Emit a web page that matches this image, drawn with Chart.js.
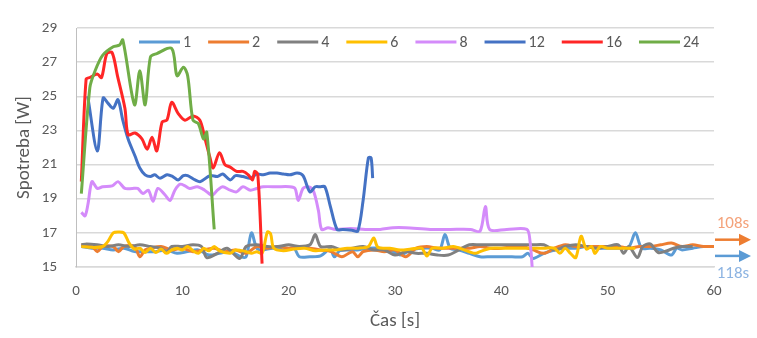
<!DOCTYPE html>
<html><head><meta charset="utf-8">
<script src="https://cdn.jsdelivr.net/npm/chart.js@4.4.1/dist/chart.umd.min.js"></script>
<style>html,body{margin:0;padding:0;background:#fff;}#wrap{width:757px;height:338px;}</style>
</head><body><div id="wrap"><canvas id="c" width="757" height="338"></canvas></div>
<script>
const seriesLabels = ['1','2','4','6','8','12','16','24'];
const seriesColors = ['#5B9BD5','#ED7D31','#808080','#FFC000','#D48BFA','#4472C4','#FF2626','#70AD47'];
const yTicks = [15,17,19,21,23,25,27,29];
const xTicks = [0,10,20,30,40,50,60];
const noteLabels = ['108s','118s'];
const noteValues = [16.6,15.65];

const s1 = [[0.5,16.2],[1.5,16.1],[2.5,16.1],[3.5,16.0],[4.5,16.1],[5.5,15.9],[6.5,15.9],[7.5,15.9],[8.5,16.0],[9.5,15.8],[10.5,15.9],[11.5,16.0],[12.5,15.7],[13.5,15.8],[14.5,15.9],[15.5,15.6],[16.0,15.6],[16.5,17.0],[17.0,16.1],[17.5,16.0],[18.5,16.1],[19.5,16.0],[20.5,16.1],[21.0,15.6],[22.0,15.6],[23.0,15.65],[23.9,16.05],[24.3,15.6],[24.8,15.95],[25.5,16.0],[26.5,16.0],[27.5,16.1],[28.5,16.1],[29.5,16.0],[30.5,15.7],[31.5,16.0],[32.5,16.1],[33.5,16.1],[34.2,16.0],[34.7,16.9],[35.2,16.1],[36.0,16.0],[37.0,15.8],[38.0,15.6],[39.0,15.6],[40.0,15.6],[41.0,15.6],[42.0,15.6],[42.5,15.8],[43.0,15.5],[44.0,15.8],[45.0,16.0],[46.0,16.1],[47.0,16.1],[48.0,16.2],[49.0,16.1],[50.0,16.1],[51.0,16.1],[52.0,16.2],[52.6,17.0],[53.2,16.1],[54.0,16.1],[55.0,16.0],[56.0,15.7],[56.5,16.1],[57.0,16.0],[58.0,16.1],[59.0,16.2],[60.0,16.2]];
const s2 = [[0.5,16.3],[1.5,16.2],[2.0,15.9],[2.5,16.2],[3.5,16.2],[4.0,15.9],[4.5,16.2],[5.5,16.2],[6.0,15.6],[6.5,16.0],[7.0,16.1],[8.0,16.2],[9.0,16.0],[10.0,16.1],[11.0,15.9],[12.0,16.0],[13.0,16.1],[14.0,15.9],[15.0,16.0],[16.0,15.8],[17.0,16.2],[18.0,16.1],[19.0,16.2],[20.0,16.1],[21.0,16.2],[22.0,16.1],[23.0,16.0],[24.0,15.9],[25.0,15.6],[26.0,15.9],[26.5,15.6],[27.0,15.9],[28.0,16.0],[29.0,15.9],[30.0,16.0],[31.0,15.6],[32.0,16.1],[33.0,16.2],[34.0,16.1],[35.0,16.1],[36.0,16.1],[37.0,16.1],[38.0,16.2],[39.0,16.1],[40.0,16.1],[41.0,16.2],[42.0,16.2],[43.0,16.0],[44.0,15.8],[45.0,16.1],[46.0,16.3],[47.0,16.2],[48.0,16.2],[49.0,16.2],[50.0,16.2],[51.0,16.2],[52.0,16.1],[53.0,16.2],[54.0,16.2],[55.0,16.3],[56.0,16.4],[57.0,16.2],[58.0,16.3],[59.0,16.2],[60.0,16.2]];
const s4 = [[0.5,16.3],[1.0,16.35],[2.0,16.3],[3.0,16.2],[4.0,16.3],[5.0,16.2],[6.0,16.3],[7.0,16.2],[8.0,16.1],[8.5,15.85],[9.0,16.2],[10.0,16.2],[11.0,16.3],[11.8,16.2],[12.3,15.55],[13.3,15.8],[14.2,16.1],[15.4,15.5],[16.0,16.2],[17.0,16.3],[18.0,16.2],[19.0,16.2],[20.0,16.3],[21.0,16.2],[22.0,16.3],[22.5,16.9],[23.0,16.2],[24.0,16.2],[25.0,16.0],[26.0,16.1],[27.0,16.2],[28.0,16.0],[29.0,16.0],[30.0,15.7],[31.0,15.9],[32.0,15.8],[33.0,15.8],[34.0,15.7],[35.0,15.7],[36.0,16.0],[37.0,16.3],[38.0,16.3],[39.0,16.3],[40.0,16.3],[41.0,16.3],[42.0,16.3],[43.0,16.3],[44.0,16.3],[45.0,16.0],[46.0,16.2],[47.0,16.3],[48.0,16.2],[49.0,16.1],[50.0,16.2],[51.0,16.3],[51.5,15.8],[52.0,16.2],[52.8,15.55],[53.3,16.2],[54.0,16.35],[54.75,15.85],[55.6,15.95],[56.2,16.1],[57.0,16.2],[58.0,16.2]];
const s6 = [[0.5,16.2],[1.5,16.15],[2.5,16.2],[3.0,16.5],[3.5,17.0],[4.0,17.05],[4.5,17.0],[5.0,16.4],[5.5,16.05],[6.0,16.1],[6.5,15.85],[7.0,16.1],[7.5,15.85],[8.0,16.05],[8.5,15.8],[9.0,16.0],[9.5,16.1],[10.0,16.0],[10.5,16.2],[11.0,15.95],[11.5,15.8],[12.0,16.1],[12.5,15.95],[13.0,16.2],[13.5,15.95],[14.5,15.8],[15.0,16.0],[16.0,15.9],[16.5,15.8],[17.0,15.9],[17.5,15.8],[18.0,17.05],[18.3,16.95],[18.6,16.1],[19.5,15.95],[20.5,16.05],[21.5,16.1],[22.5,15.95],[23.5,16.0],[24.5,16.0],[25.5,16.1],[26.5,16.1],[27.5,16.2],[28.0,16.7],[28.4,16.15],[29.5,16.1],[30.5,16.0],[31.5,16.05],[32.5,16.1],[33.0,15.65],[33.5,16.1],[34.5,16.1],[35.5,16.2],[36.5,16.0],[37.5,15.8],[38.0,15.9],[39.0,16.1],[40.0,16.1],[41.0,16.1],[42.0,16.1],[43.0,16.1],[44.0,16.1],[45.0,16.1],[45.5,15.8],[46.0,16.1],[46.5,15.8],[47.0,15.55],[47.5,16.8],[48.0,16.05],[48.5,16.2],[48.8,15.8],[49.3,16.2],[50.0,16.1],[51.0,16.1],[52.0,16.1],[52.6,16.1]];
const s8 = [[0.5,18.2],[0.85,18.0],[1.13,18.7],[1.5,20.0],[2.0,19.6],[2.5,19.7],[3.4,19.75],[3.95,20.0],[4.6,19.6],[5.3,19.6],[5.8,19.6],[6.3,19.3],[6.8,19.5],[7.25,18.85],[7.7,19.6],[8.4,19.2],[8.85,18.9],[9.3,19.5],[9.8,19.85],[10.25,19.75],[10.7,19.6],[11.4,19.7],[12.1,19.5],[12.8,19.2],[13.3,19.5],[13.8,19.7],[14.5,19.5],[15.1,19.4],[15.7,19.7],[16.4,19.5],[17.0,19.6],[17.6,19.7],[18.9,19.7],[20.1,19.7],[20.6,19.6],[20.9,18.9],[21.35,19.6],[21.8,19.7],[22.3,19.5],[22.8,18.3],[23.1,17.2],[23.7,17.3],[24.4,17.2],[25.8,17.25],[27.2,17.2],[28.6,17.2],[29.8,17.3],[31.0,17.3],[33.3,17.2],[35.2,17.2],[37.1,17.2],[38.0,17.1],[38.5,18.55],[38.9,17.2],[40.5,17.2],[42.4,17.2],[42.7,16.5],[42.9,15.0]];
const s12 = [[1.1,25.0],[2.0,21.8],[2.55,24.9],[3.0,24.6],[3.5,24.3],[3.95,24.8],[4.4,23.6],[4.9,22.5],[5.55,21.5],[6.0,20.8],[6.5,20.4],[7.0,20.3],[7.4,20.4],[7.9,20.2],[8.56,20.4],[9.1,20.3],[9.6,20.1],[10.1,20.35],[10.5,20.35],[11.2,20.1],[11.7,20.0],[12.6,20.35],[13.3,20.3],[13.8,20.45],[14.5,20.1],[15.0,20.35],[15.7,20.3],[16.4,20.2],[17.0,20.45],[17.6,20.4],[18.25,20.5],[18.9,20.5],[19.5,20.45],[20.1,20.4],[20.8,20.5],[21.35,20.35],[22.0,19.4],[22.5,19.7],[22.95,19.7],[23.4,19.7],[23.9,18.6],[24.55,17.2],[25.1,17.2],[25.96,17.15],[26.5,17.1],[27.0,18.9],[27.5,21.4],[27.75,21.4],[27.9,20.2]];
const s16 = [[0.5,20.0],[0.95,26.0],[1.3,26.1],[2.0,26.3],[2.4,26.1],[2.9,27.5],[3.4,27.55],[3.9,26.2],[4.6,24.3],[4.9,22.75],[5.55,22.85],[6.2,22.5],[6.7,21.9],[7.15,22.6],[7.6,21.8],[8.1,23.5],[8.55,23.6],[9.0,24.65],[9.6,24.0],[10.25,23.6],[11.0,23.85],[11.65,23.6],[12.1,22.6],[12.6,21.4],[12.9,20.8],[13.5,21.7],[14.0,21.0],[14.5,20.85],[15.1,20.6],[15.7,20.6],[16.2,20.4],[16.6,20.1],[16.8,20.6],[17.1,20.4],[17.5,15.2]];
const s24 = [[0.5,19.3],[1.3,25.5],[1.8,26.5],[2.5,27.4],[3.5,27.9],[4.1,28.0],[4.4,28.3],[5.5,24.5],[6.0,26.5],[6.5,24.5],[7.0,27.3],[7.6,27.5],[9.0,27.8],[9.5,26.2],[10.1,26.7],[10.5,26.2],[11.0,23.6],[11.5,23.4],[12.0,22.5],[12.3,22.9],[13.0,17.2]];
const seriesData = [s1,s2,s4,s6,s8,s12,s16,s24];

const FONT = 'Carlito, Lato, sans-serif';
const TXT = '#595959';

const legendPlugin = {
  id: 'inlineLegend',
  afterDraw(chart) {
    const ctx = chart.ctx, a = chart.chartArea;
    ctx.save();
    ctx.font = '16px ' + FONT;
    ctx.textBaseline = 'middle';
    ctx.textAlign = 'left';
    let x = a.left + 63;
    const y = a.top + 14;
    chart.data.datasets.forEach(ds => {
      ctx.strokeStyle = ds.borderColor;
      ctx.lineWidth = 3;
      ctx.beginPath(); ctx.moveTo(x, y); ctx.lineTo(x + 41, y); ctx.stroke();
      ctx.fillStyle = TXT;
      ctx.fillText(ds.label, x + 44, y + 1);
      x += 44 + ctx.measureText(ds.label).width + 17;
    });
    ctx.restore();
  }
};

const notePlugin = {
  id: 'endNotes',
  afterDraw(chart) {
    const ctx = chart.ctx, a = chart.chartArea, ys = chart.scales.y;
    const arrowCols = ['#ED7D31', '#5B9BD5'];
    const textCols = ['#F4A27A', '#8DB4E2'];
    ctx.save();
    noteValues.forEach((v, i) => {
      const py = ys.getPixelForValue(v);
      const x0 = a.right + 1, x1 = a.right + 37;
      ctx.strokeStyle = arrowCols[i]; ctx.fillStyle = arrowCols[i];
      ctx.lineWidth = 2.5;
      ctx.beginPath(); ctx.moveTo(x0, py); ctx.lineTo(x1 - 10, py); ctx.stroke();
      ctx.beginPath(); ctx.moveTo(x1 - 12, py - 6); ctx.lineTo(x1, py); ctx.lineTo(x1 - 12, py + 6); ctx.closePath(); ctx.fill();
      ctx.font = '17px ' + FONT;
      ctx.fillStyle = textCols[i];
      ctx.textAlign = 'center'; ctx.textBaseline = 'middle';
      ctx.fillText(noteLabels[i], a.right + 19, i === 0 ? py - 16 : py + 18);
    });
    ctx.restore();
  }
};

const datasets = seriesLabels.map((lab, i) => ({
  label: lab,
  data: seriesData[i].map(p => ({x: p[0], y: p[1]})),
  borderColor: seriesColors[i],
  backgroundColor: seriesColors[i],
  borderWidth: 3,
  pointRadius: 0,
  showLine: true,
  tension: 0.3,
  order: seriesLabels.length - i
}));

new Chart(document.getElementById('c'), {
  type: 'scatter',
  data: { datasets },
  options: {
    responsive: false,
    animation: false,
    layout: { padding: { left: 0, right: 43, top: 16, bottom: 0 } },
    plugins: { legend: { display: false }, tooltip: { enabled: false } },
    scales: {
      x: {
        type: 'linear', min: 0, max: 60,
        afterBuildTicks: s => { s.ticks = xTicks.map(v => ({value: v})); },
        afterFit: s => { s.height = 71; },
        grid: { display: false, drawTicks: false },
        border: { display: true, color: '#D9D9D9', width: 1.5 },
        ticks: { color: TXT, font: { family: FONT, size: 15 }, padding: 15, maxRotation: 0 },
        title: { display: true, text: 'Čas [s]', color: TXT, font: { family: FONT, size: 19 }, padding: { top: 5, bottom: 5 } }
      },
      y: {
        type: 'linear', min: 15, max: 29,
        afterBuildTicks: s => { s.ticks = yTicks.map(v => ({value: v})); },
        afterFit: s => { s.width = 76; },
        grid: { color: '#D9D9D9', lineWidth: 1.5, drawTicks: false },
        border: { display: true, color: '#BFBFBF', width: 1 },
        ticks: { color: TXT, font: { family: FONT, size: 15 }, padding: 19 },
        title: { display: true, text: 'Spotreba [W]', color: TXT, font: { family: FONT, size: 19 }, padding: { top: 13, bottom: 13 } }
      }
    }
  },
  plugins: [legendPlugin, notePlugin]
});
</script>
</body></html>
